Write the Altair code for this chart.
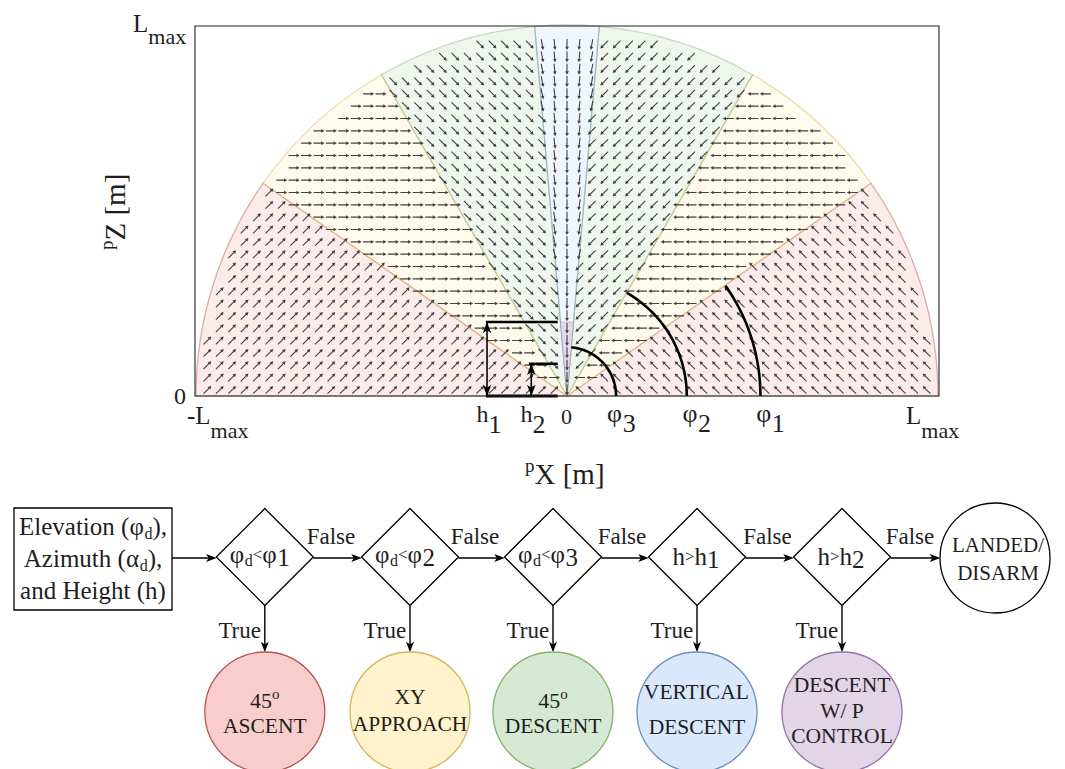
import math
import altair as alt
import pandas as pd

FONT = "Liberation Serif, Times New Roman, serif"
INK = "#1e1e1e"

# ---------------- data: guidance field ----------------
L_MAX = 1.0
phi_deg = [35, 60, 85]                 # phi1, phi2, phi3 (elevation thresholds)
h_vals = [0.20, 0.087]                 # h1, h2 (fraction of Lmax)
region_name = ["45 ascent", "xy approach", "45 descent", "vertical descent"]
region_lo = [0, 35, 60, 85]
region_hi = [35, 60, 85, 95]
region_arrow_elev = [45, 0, -45, -90]  # arrow direction on the left half (deg)
grid_n = 30                            # grid points per Lmax
phi_arc_r = [0.52, 0.322, 0.132]       # marker arcs for phi1, phi2, phi3
h_arrow_x = [-0.215, -0.096]           # x of h1 / h2 double arrows
h_line_x0 = [-0.218, -0.1025]
h_line_x1 = -0.025

region_fill = ["#f8cecc", "#fff2cc", "#d5e8d4", "#dae8fc"]
region_stroke = ["#b85450", "#d6b656", "#82b366", "#6c8ebf"]
purple_fill = "#e1d5e7"
purple_stroke = "#9673a6"

# ---------------- data: flowchart ----------------
dec_text = [["φ", "d", "<", "φ", "1"], ["φ", "d", "<", "φ", "2"], ["φ", "d", "<", "φ", "3"],
            ["h", ">", "h", "1"], ["h", ">", "h", "2"]]
state_lines = [["45|o", "ASCENT"], ["XY", "APPROACH"], ["45|o", "DESCENT"],
               ["VERTICAL", "DESCENT"], ["DESCENT", "W/ P", "CONTROL"]]
state_fill = ["#f8cecc", "#fff2cc", "#d5e8d4", "#dae8fc", "#e1d5e7"]
state_stroke = ["#b85450", "#d6b656", "#82b366", "#6c8ebf", "#9673a6"]
end_lines = ["LANDED/", "DISARM"]

# layout of the flowchart (px-like units of the lower panel)
dec_x = [264.8, 410.0, 553.0, 697.0, 842.0]
dec_y = 557.0
dec_half = 48.5
state_y = 712.0
state_r = 60.0
end_x, end_y, end_r = 995.0, 558.0, 55.0
box = (14.0, 172.0, 508.0, 610.0)
false_x = [331, 475, 622, 767.5, 910]

# ---------------- helpers ----------------
CW = {' ': .25, '(': .333, ')': .333, ',': .25, '/': .278, '<': .564, '>': .564, '[': .333, ']': .333,
      '-': .333, 'A': .722, 'C': .667, 'D': .722, 'E': .611, 'F': .556, 'H': .722, 'I': .333, 'L': .611,
      'M': .889, 'N': .722, 'O': .722, 'P': .556, 'R': .667, 'S': .556, 'T': .611, 'V': .722, 'W': .944,
      'X': .722, 'Y': .722, 'Z': .611, 'a': .444, 'd': .5, 'e': .444, 'g': .5, 'h': .5, 'i': .278,
      'l': .278, 'm': .778, 'n': .5, 'o': .5, 'p': .5, 'r': .333, 's': .389, 't': .278, 'u': .5,
      'v': .5, 'x': .5, 'z': .444, 'φ': .6, 'α': .55}


def tw(s, size):
    return sum(CW.get(c, 0.5) for c in s) * size


def run_layout(parts, left, base):
    """parts: (text, size, dy) -> rows with left x / baseline y in px."""
    out, x = [], left
    for t, s, dy in parts:
        out.append(dict(text=t, size=s, px=x, py=base + dy))
        x += tw(t, s)
    return out


def centered(parts, cx, base):
    total = sum(tw(t, s) for t, s, _ in parts)
    return run_layout(parts, cx - total / 2, base)


# ---------------- top panel ----------------
TW, TH = 744, 370
PXX, PXY = TW / 2.0, TH / 1.0
XS = alt.Scale(domain=[-L_MAX, L_MAX], nice=False, zero=False)
YS = alt.Scale(domain=[0, L_MAX], nice=False, zero=False)


def X(f):
    return alt.X(f, type="quantitative", scale=XS, axis=None)


def Y(f):
    return alt.Y(f, type="quantitative", scale=YS, axis=None)


rad = math.radians
reg_rows = []
for k in range(4):
    lo, hi = region_lo[k], region_hi[k]
    base = dict(cx=0.0, cy=0.0, fill=region_fill[k], stroke=region_stroke[k], name=region_name[k])
    if hi <= 90:
        reg_rows.append(dict(base, t1=rad(90 - hi), t2=rad(90 - lo)))
        reg_rows.append(dict(base, t1=rad(270 + lo), t2=rad(270 + hi)))
    else:
        reg_rows.append(dict(base, t1=rad(450 - hi), t2=rad(450 - lo)))
reg_df = pd.DataFrame(reg_rows)

regions = alt.Chart(reg_df).mark_arc(radius=371, fillOpacity=0.4, strokeOpacity=0.45, strokeWidth=1.3).encode(
    x=X("cx"), y=Y("cy"),
    theta=alt.Theta("t1:Q", scale=None), theta2=alt.Theta2("t2:Q"),
    fill=alt.Fill("fill:N", scale=None), stroke=alt.Stroke("stroke:N", scale=None),
)

w5 = h_vals[0] * math.tan(rad(90 - phi_deg[2]))
pur_df = pd.DataFrame(dict(x=[-w5, 0.0, w5], yt=[h_vals[0]] * 3, yb=[h_vals[0], 0.0, h_vals[0]]))
purple = alt.Chart(pur_df).mark_area(fill=purple_fill, fillOpacity=0.85, stroke=purple_stroke,
                                     strokeOpacity=0.35, strokeWidth=1).encode(
    x=X("x"), y=Y("yt"), y2="yb")

# vector field
step = L_MAX / grid_n
vrows = []
for i in range(-grid_n, grid_n + 1):
    for j in range(grid_n):
        x = i * step
        y = (j + 0.5) * step
        if math.hypot(x, y) > L_MAX - 0.6 * step:
            continue
        elev = math.degrees(math.atan2(y, x))
        e = min(elev, 180 - elev)
        k = 0 if e < phi_deg[0] else 1 if e < phi_deg[1] else 2 if e < phi_deg[2] else 3
        d = region_arrow_elev[k]
        if k == 3:
            d = -90 + min(18.0, math.degrees(math.atan2(abs(x) * 2.5, y)))
        a = d if x < 0 else 180 - d
        vrows.append(dict(x=x, y=y, ang=(-a) % 360))
vec_df = pd.DataFrame(vrows)
ARROW = "M-1,-0.1L0.4,-0.1L0.4,-0.34L1,0L0.4,0.34L0.4,0.1L-1,0.1Z"
field = alt.Chart(vec_df).mark_point(shape=ARROW, filled=True, size=121, color="#2e2e2e", opacity=0.9,
                                     strokeWidth=0).encode(
    x=X("x"), y=Y("y"), angle=alt.Angle("ang:Q", scale=None))

# phi marker arcs
arows = []
for n, (r, p) in enumerate(zip(phi_arc_r, phi_deg)):
    for s in range(41):
        t = p * s / 40.0
        arows.append(dict(arc=n, t=t, x=r * math.cos(rad(t)), y=r * math.sin(rad(t))))
arcs = alt.Chart(pd.DataFrame(arows)).mark_line(color="black", strokeWidth=2.6).encode(
    x=X("x"), y=Y("y"), detail="arc:N", order="t:Q")

# h brackets
seg = pd.DataFrame([
    dict(x=h_line_x0[0], x2=h_line_x1, y=h_vals[0], y2=h_vals[0], w=2.6),
    dict(x=h_line_x0[1], x2=h_line_x1, y=h_vals[1], y2=h_vals[1], w=2.6),
    dict(x=h_line_x0[0], x2=h_line_x1, y=0.0, y2=0.0, w=3.2),
    dict(x=h_arrow_x[0], x2=h_arrow_x[0], y=0.0, y2=h_vals[0], w=1.6),
    dict(x=h_arrow_x[1], x2=h_arrow_x[1], y=0.0, y2=h_vals[1], w=1.6),
])
brackets = alt.Chart(seg).mark_rule(color="black").encode(
    x=X("x"), x2="x2", y=Y("y"), y2="y2", strokeWidth=alt.StrokeWidth("w:Q", scale=None))
HEAD = "M1,0L-1,-0.75L-0.5,0L-1,0.75Z"
hoff = 5.5 / PXY
heads_top = pd.DataFrame([
    dict(x=h_arrow_x[0], y=h_vals[0] - hoff, ang=270), dict(x=h_arrow_x[0], y=hoff, ang=90),
    dict(x=h_arrow_x[1], y=h_vals[1] - hoff, ang=270), dict(x=h_arrow_x[1], y=hoff, ang=90),
])
bheads = alt.Chart(heads_top).mark_point(shape=HEAD, filled=True, size=130, color="black", opacity=1).encode(
    x=X("x"), y=Y("y"), angle=alt.Angle("ang:Q", scale=None))

frame = alt.Chart(pd.DataFrame(dict(x=[-L_MAX], x2=[L_MAX], y=[0.0], y2=[L_MAX]))).mark_rect(
    fillOpacity=0, stroke="#222222", strokeWidth=1.1).encode(x=X("x"), x2="x2", y=Y("y"), y2="y2")

# top-panel labels: (anchor x, anchor y, dx px, baseline dy px, parts)
top_labels = [
    (-L_MAX, 0.0, -21, 8, [("0", 24, 0)]),
    (-L_MAX, L_MAX, -62, 6, [("L", 25, 0), ("max", 22, 12)]),
    (-L_MAX, 0.0, -8, 28, [("-L", 25, 0), ("max", 22, 14)]),
    (L_MAX, 0.0, -33, 28, [("L", 25, 0), ("max", 22, 14)]),
    (h_arrow_x[0], 0.0, -10.5, 26, [("h", 24, 0), ("1", 26, 11)]),
    (h_arrow_x[1], 0.0, -10.7, 26, [("h", 24, 0), ("2", 26, 11)]),
    (0.0, 0.0, -6, 28, [("0", 22, 0)]),
    (phi_arc_r[2], 0.0, -9, 26, [("φ", 26, 0), ("3", 26, 10)]),
    (phi_arc_r[1], 0.0, -4.4, 26, [("φ", 26, 0), ("2", 26, 10)]),
    (phi_arc_r[0], 0.0, -4.3, 26, [("φ", 26, 0), ("1", 26, 10)]),
    (0.0, 0.0, -42, 88, [("p", 19, -12), ("X [m]", 29, 0)]),
]
trows = []
for ax, ay, dx, dy, parts in top_labels:
    for r in run_layout(parts, dx, dy):
        trows.append(dict(text=r["text"], size=r["size"], x=ax + r["px"] / PXX, y=ay - r["py"] / PXY))
top_text = alt.Chart(pd.DataFrame(trows)).mark_text(font=FONT, align="left", baseline="alphabetic",
                                                    color=INK).encode(
    x=X("x"), y=Y("y"), text="text:N", size=alt.Size("size:Q", scale=None))

# rotated z title, reading upward
zrows = []
for r in run_layout([("p", 19, -12), ("Z [m]", 29, 0)], 0, 0):
    zrows.append(dict(text=r["text"], size=r["size"],
                      x=-L_MAX + (-70 + r["py"]) / PXX, y=0.5 * L_MAX + (-39 + r["px"]) / PXY))
z_text = alt.Chart(pd.DataFrame(zrows)).mark_text(font=FONT, align="left", baseline="alphabetic",
                                                  angle=270, color=INK).encode(
    x=X("x"), y=Y("y"), text="text:N", size=alt.Size("size:Q", scale=None))

top = alt.layer(regions, purple, field, arcs, brackets, bheads, frame, top_text, z_text).properties(
    width=TW, height=TH)

# ---------------- bottom panel (flowchart) ----------------
BW, BH = 744, 269
XB = alt.Scale(domain=[195, 939], nice=False, zero=False)
YB = alt.Scale(domain=[500, 769], nice=False, zero=False, reverse=True)


def XF(f):
    return alt.X(f, type="quantitative", scale=XB, axis=None)


def YF(f):
    return alt.Y(f, type="quantitative", scale=YB, axis=None)


box_layer = alt.Chart(pd.DataFrame(dict(x=[box[0]], x2=[box[1]], y=[box[2]], y2=[box[3]]))).mark_rect(
    fill="white", stroke="black", strokeWidth=1.3).encode(x=XF("x"), x2="x2", y=YF("y"), y2="y2")

dec_df = pd.DataFrame(dict(x=dec_x, y=[dec_y] * 5))
diamonds = alt.Chart(dec_df).mark_point(shape="diamond", filled=True, fill="white", stroke="black",
                                        strokeWidth=1.3, size=(2 * dec_half) ** 2, opacity=1).encode(
    x=XF("x"), y=YF("y"))

circ_df = pd.DataFrame(dict(x=dec_x + [end_x], y=[state_y] * 5 + [end_y],
                            fill=state_fill + ["#ffffff"], stroke=state_stroke + ["#000000"],
                            sz=[(2 * state_r) ** 2] * 5 + [(2 * end_r) ** 2]))
circles = alt.Chart(circ_df).mark_point(shape="circle", filled=True, strokeWidth=1.3, opacity=1).encode(
    x=XF("x"), y=YF("y"), fill=alt.Fill("fill:N", scale=None), stroke=alt.Stroke("stroke:N", scale=None),
    size=alt.Size("sz:Q", scale=None))

# connectors
starts = [box[1]] + [x + dec_half for x in dec_x]
ends = [x - dec_half for x in dec_x] + [end_x - end_r]
crow = []
hrow = []
for s, e in zip(starts, ends):
    crow.append(dict(x=s, x2=e - 3, y=dec_y + 1, y2=dec_y + 1))
    hrow.append(dict(x=e - 5, y=dec_y + 1, ang=0))
for x in dec_x:
    crow.append(dict(x=x, x2=x, y=dec_y + dec_half, y2=state_y - state_r - 3))
    hrow.append(dict(x=x, y=state_y - state_r - 5, ang=90))
conn = alt.Chart(pd.DataFrame(crow)).mark_rule(color="black", strokeWidth=1.4).encode(
    x=XF("x"), x2="x2", y=YF("y"), y2="y2")
fheads = alt.Chart(pd.DataFrame(hrow)).mark_point(shape=HEAD, filled=True, size=110, color="black",
                                                  opacity=1).encode(
    x=XF("x"), y=YF("y"), angle=alt.Angle("ang:Q", scale=None))

brows = []
bx = (box[0] + box[1]) / 2
brows += centered([("Elevation (", 25, 0), ("φ", 25, 0), ("d", 16, 4), ("),", 25, 0)], bx, 535)
brows += centered([("Azimuth (", 25, 0), ("α", 25, 0), ("d", 16, 4), ("),", 25, 0)], bx, 567)
brows += centered([("and Height (h)", 25, 0)], bx, 599)
for n, parts in enumerate(dec_text):
    if parts[0] == "φ":
        p = [(parts[0], 25, 0), (parts[1], 16, 3), (parts[2], 17, -3), (parts[3], 25, 0), (parts[4], 25, 3)]
        brows += centered(p, dec_x[n] - 5, 563)
    else:
        p = [(parts[0], 25, 0), (parts[1], 17, -3), (parts[2], 25, 0), (parts[3], 25, 3)]
        brows += centered(p, dec_x[n] - 1, 565)
for fx in false_x:
    brows += centered([("False", 23, 0)], fx, 544)
for x in dec_x:
    brows += run_layout([("True", 23, 0)], x - 3 - tw("True", 23), 638)
line_base = [[708, 733], [704, 731], [708, 733], [699, 734], [692, 717.5, 743]]
for n, lines in enumerate(state_lines):
    for ln, b in zip(lines, line_base[n]):
        if "|" in ln:
            a, sup = ln.split("|")
            brows += centered([(a, 22, 0), (sup, 15, -9)], dec_x[n], b)
        else:
            brows += centered([(ln, 21.5, 0)], dec_x[n], b)
brows += centered([(end_lines[0], 21, 0)], end_x + 3, 552)
brows += centered([(end_lines[1], 21, 0)], end_x + 3, 580)
flow_text = alt.Chart(pd.DataFrame(brows)).mark_text(font=FONT, align="left", baseline="alphabetic",
                                                     color=INK).encode(
    x=XF("px"), y=YF("py"), text="text:N", size=alt.Size("size:Q", scale=None))

bottom = alt.layer(conn, fheads, box_layer, diamonds, circles, flow_text).properties(width=BW, height=BH)

chart = alt.vconcat(top, bottom, spacing=104, bounds="flush").properties(
    padding={"left": 5, "top": 4, "right": 0, "bottom": 0}
).configure_view(stroke=None)

chart.save("out.html", embed_options={"renderer": "svg", "actions": False})
